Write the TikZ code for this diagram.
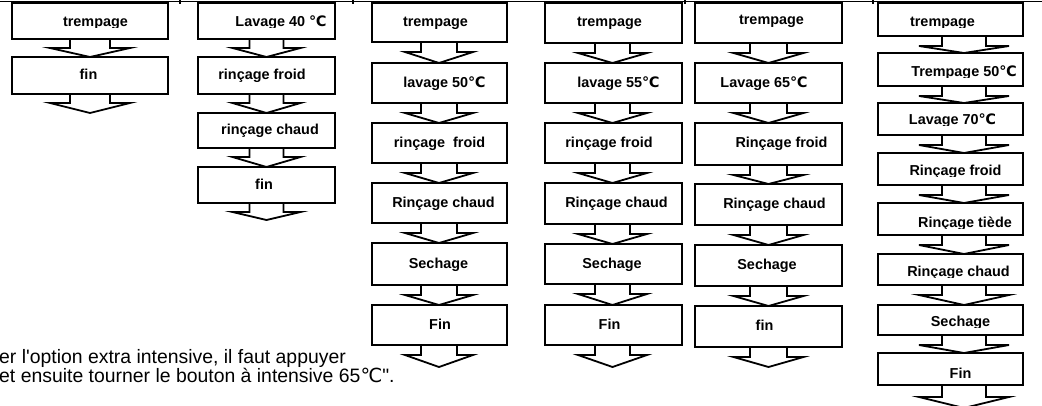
\documentclass[tikz,border=0pt]{standalone}
\usepackage{fontspec}
\setmainfont{Liberation Sans}[Ligatures=TeXOff]
\newfontfamily\djv{DejaVu Sans}
\newcommand{\dgc}{{\djv ℃}}
\tikzset{
  stepbox/.style={draw, line width=1.8pt, inner sep=0pt, outer sep=0pt},
  steptext/.style={font=\bfseries\fontsize{14.4}{16}\selectfont, inner sep=0pt, text height=10pt, text depth=3pt},
  blockarrow/.style={draw, line width=1.8pt, line join=miter},
  note/.style={font=\fontsize{19.4}{20}\selectfont, inner sep=0pt, anchor=base west},
  tablerule/.style={line width=1.5pt}
}
% box: name, left, right, top, bottom
\newcommand{\bx}[5]{\node[stepbox, minimum width={#3-#2}, minimum height={#5-#4}] (#1) at ({(#2+#3)/2},{(#4+#5)/2}) {};}
% text: name, x, y, content
\newcommand{\tx}[4]{\node[steptext] (#1) at (#2,#3) {#4};}
% clipped text: name, x, y, clip left, clip top, clip right, clip bottom, content
\newcommand{\ctx}[8]{\begin{scope}\clip (#4,#5) rectangle (#6,#7);\node[steptext] (#1) at (#2,#3) {#8};\end{scope}}
% block arrow: from box, to (anchor), dx, shaft half, wing half, shaft length
\newcommand{\arr}[6]{\draw[blockarrow] ([xshift={#3-#4}]#1.south) -- ++(0,#6) -- ++({#4-#5},0) -- ([xshift={#3}]#2) -- ([xshift={#3+#5},yshift={-#6}]#1.south) -- ++({#4-#5},0) -- ([xshift={#3+#4}]#1.south);}
\begin{document}
\begin{tikzpicture}[x=1pt,y=-1pt]
\useasboundingbox (0,0) rectangle (1042,405);
% table rule at top
\draw[tablerule] (0,1.5) -- (1042,1.5);
\foreach \t in {180,353,685,873} \draw[tablerule] (\t,0) -- (\t,4);

% ---- column 1
\bx{a1}{12}{168}{3}{39}
\bx{a2}{12}{168}{57}{94}
\coordinate (a3) at (90,113);
\arr{a1}{a2.north}{0}{20}{40}{9}
\arr{a2}{a3}{0}{20}{40}{9}
\ctx{a1t}{95.5}{23}{12}{3}{168}{27}{trempage}
\tx{a2t}{88.5}{76}{fin}

% ---- column 2
\bx{b1}{198}{335}{3}{39}
\bx{b2}{198}{335}{57}{94}
\bx{b3}{198}{335}{113}{148}
\bx{b4}{198}{335}{167}{203}
\coordinate (b5) at (266.5,220);
\arr{b1}{b2.north}{0}{17}{34}{9}
\arr{b2}{b3.north}{0}{17}{34}{9}
\arr{b3}{b4.north}{0}{17}{34}{9}
\arr{b4}{b5}{0}{17}{34}{9}
\ctx{b1t}{281}{23}{198}{3}{335}{27}{Lavage 40 \dgc}
\tx{b2t}{262}{76}{rinçage froid}
\tx{b3t}{270}{131}{rinçage chaud}
\tx{b4t}{264}{185.5}{fin}

% ---- column 3
\bx{c1}{372}{507}{3}{42}
\bx{c2}{372}{507}{63}{103}
\bx{c3}{372}{507}{123}{163}
\bx{c4}{372}{507}{183}{223}
\bx{c5}{372}{507}{243}{285}
\bx{c6}{372}{507}{305}{345}
\coordinate (c7) at (439.5,367);
\arr{c1}{c2.north}{-0.5}{18}{34}{10}
\arr{c2}{c3.north}{-0.5}{18}{34}{10}
\arr{c3}{c4.north}{-0.5}{18}{34}{10}
\arr{c4}{c5.north}{-0.5}{18}{34}{10}
\arr{c5}{c6.north}{-0.5}{18}{34}{10}
\arr{c6}{c7}{-0.5}{18}{34}{10}
\tx{c1t}{435.5}{23}{trempage}
\tx{c2t}{444.5}{84}{lavage 50\dgc}
\tx{c3t}{439.5}{144}{rinçage~ froid}
\tx{c4t}{443.5}{204}{Rinçage chaud}
\tx{c5t}{438.5}{265}{Sechage}
\tx{c6t}{440}{326}{Fin}

% ---- column 4
\bx{d1}{545}{682}{3}{43}
\bx{d2}{545}{682}{63}{103}
\bx{d3}{545}{682}{123}{163}
\bx{d4}{545}{682}{183}{224}
\bx{d5}{545}{682}{244}{284}
\bx{d6}{545}{682}{305}{345}
\coordinate (d7) at (613.5,367);
\arr{d1}{d2.north}{-1}{17.5}{34.5}{10}
\arr{d2}{d3.north}{-1}{17.5}{34.5}{10}
\arr{d3}{d4.north}{-1}{17.5}{34.5}{10}
\arr{d4}{d5.north}{-1}{17.5}{34.5}{10}
\arr{d5}{d6.north}{-1}{17.5}{34.5}{10}
\arr{d6}{d7}{-1}{17.5}{34.5}{10}
\tx{d1t}{609.5}{23}{trempage}
\tx{d2t}{618.5}{84}{lavage 55\dgc}
\tx{d3t}{609}{144}{rinçage froid}
\tx{d4t}{616.5}{204}{Rinçage chaud}
\tx{d5t}{612}{264.5}{Sechage}
\tx{d6t}{609.5}{326}{Fin}

% ---- column 5
\bx{e1}{695}{842}{3}{43}
\bx{e2}{695}{842}{63}{103}
\bx{e3}{695}{842}{123}{165}
\bx{e4}{695}{842}{184}{225}
\bx{e5}{695}{842}{245}{286}
\bx{e6}{695}{842}{306}{347}
\coordinate (e7) at (768.5,367);
\arr{e1}{e2.north}{0}{18.5}{35}{10}
\arr{e2}{e3.north}{0}{18.5}{35}{10}
\arr{e3}{e4.north}{0}{18.5}{35}{10}
\arr{e4}{e5.north}{0}{18.5}{35}{10}
\arr{e5}{e6.north}{0}{18.5}{35}{10}
\arr{e6}{e7}{0}{18.5}{35}{10}
\tx{e1t}{771.5}{21}{trempage}
\tx{e2t}{764}{84}{Lavage 65\dgc}
\tx{e3t}{781.5}{144}{Rinçage froid}
\tx{e4t}{774.5}{205}{Rinçage chaud}
\tx{e5t}{767}{266}{Sechage}
\tx{e6t}{764.5}{327}{fin}

% ---- column 6
\bx{f1}{878}{1023}{3}{36}
\bx{f2}{878}{1023}{53}{86}
\bx{f3}{878}{1023}{103}{135}
\bx{f4}{878}{1023}{153}{185}
\bx{f5}{878}{1023}{203}{235}
\bx{f6}{878}{1023}{254}{285}
\bx{f7}{878}{1023}{305}{335}
\bx{f8}{878}{1023}{353}{385}
\coordinate (f9) at (950.5,408);
\arr{f1}{f2.north}{13.5}{22}{45}{10}
\arr{f2}{f3.north}{13.5}{22}{45}{10}
\arr{f3}{f4.north}{13.5}{22}{45}{10}
\arr{f4}{f5.north}{13.5}{22}{45}{10}
\arr{f5}{f6.north}{13.5}{22}{45}{10}
\arr{f6}{f7.north}{13.5}{22}{45}{10}
\arr{f7}{f8.north}{13.5}{22}{45}{10}
\arr{f8}{f9}{13.5}{22}{45}{12}
\ctx{f1t}{942.5}{23}{878}{3}{1023}{27}{trempage}
\ctx{f2t}{964}{73}{878}{53}{1023}{77}{Trempage 50\dgc}
\ctx{f3t}{952.5}{121}{878}{103}{1023}{125}{Lavage 70\dgc}
\ctx{f4t}{955.5}{172}{878}{153}{1023}{176}{Rinçage froid}
\ctx{f5t}{965}{224}{878}{203}{1023}{228}{Rinçage tiède}
\ctx{f6t}{958.5}{273}{878}{254}{1023}{277}{Rinçage chaud}
\ctx{f7t}{960.5}{323}{878}{305}{1023}{327}{Sechage}
\ctx{f8t}{960.5}{375}{878}{353}{1023}{380}{Fin}

% ---- note at the bottom
\node[note] (n1) at (-1,363) {er l'option extra intensive, il faut appuyer};
\node[note] (n2) at (-1,382.5) {et ensuite tourner le bouton à intensive 65\dgc".};
\end{tikzpicture}
\end{document}
